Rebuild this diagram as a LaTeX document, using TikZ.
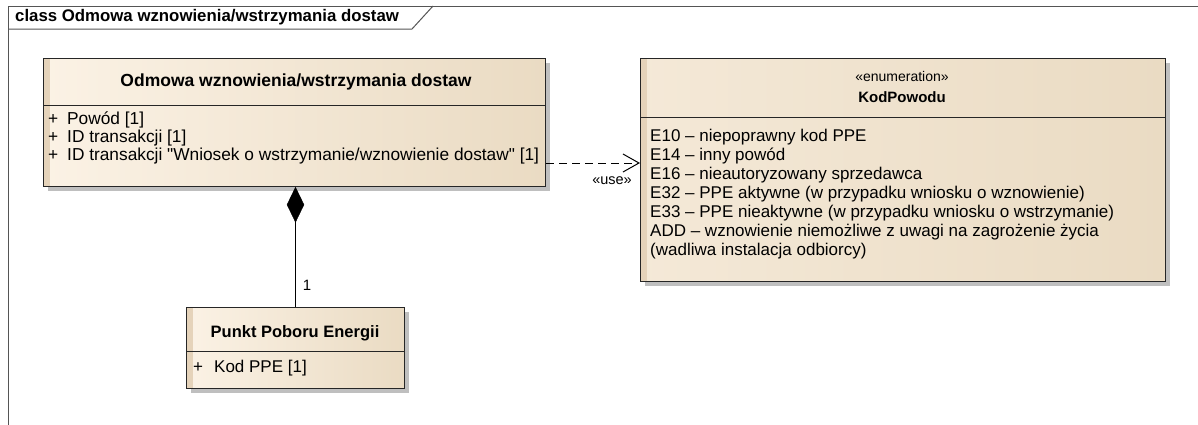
\documentclass[tikz,border=0pt]{standalone}
\usepackage{fontspec}
\setmainfont{Liberation Sans}[Ligatures=TeXOff]
\usetikzlibrary{arrows.meta,shapes.geometric,shadows}
\definecolor{umlLight}{RGB}{251,242,229}
\definecolor{umlDark}{RGB}{234,219,195}
\definecolor{umlStrip}{RGB}{229,211,186}
\definecolor{frameGray}{RGB}{85,85,85}
\tikzset{
  classbox/.style={draw=black!85,line width=1pt,anchor=north west,inner sep=0pt,
    left color=umlLight,right color=umlDark,
    drop shadow={shadow xshift=4pt,shadow yshift=-4pt,fill=black!25,opacity=1},
    path picture={\fill[umlStrip] (path picture bounding box.north west) rectangle ([xshift=6pt]path picture bounding box.south west);}},
  attr/.style={anchor=west,inner sep=0pt,font=\fontsize{17.3}{19}\selectfont},
  enumval/.style={anchor=west,inner sep=0pt,font=\fontsize{17}{19}\selectfont},
  cname/.style={inner sep=0pt,font=\bfseries\fontsize{16.5}{18}\selectfont}
}
\begin{document}
\begin{tikzpicture}[x=1pt,y=-1pt]
\useasboundingbox (0,0) rectangle (1198,424);
\fill[white] (0,0) rectangle (1198,424);
% diagram frame and tab
\draw[frameGray,line width=1pt] (8,430) -- (8,6) -- (1205,6);
\draw[frameGray,line width=1pt] (8,29) -- (412,29) -- (433,6);
\node[anchor=west,inner sep=0pt,font=\bfseries\fontsize{16.8}{18}\selectfont] (frametitle) at (15,17) {class Odmowa wznowienia/wstrzymania dostaw};
% class Odmowa
\node[classbox,minimum width=502pt,minimum height=128pt] (odmowa) at (43,58) {};
\draw[black!85,line width=1pt] (odmowa.west |- 0,105) -- (odmowa.east |- 0,105);
\node[cname,font=\bfseries\fontsize{17.5}{18}\selectfont] (odmowaname) at (296,82) {Odmowa wznowienia/wstrzymania dostaw};
\foreach \y/\txt in {120/{Powód [1]},138/{ID transakcji [1]},156/{ID transakcji "Wniosek o wstrzymanie/wznowienie dostaw" [1]}} {
  \node[attr] at (48,\y) {+};
  \node[attr] at (67,\y) {\txt};
}
% enumeration KodPowodu
\node[classbox,minimum width=525pt,minimum height=223pt,left color=umlLight!60!umlDark] (kod) at (640,58) {};
\draw[black!85,line width=1pt] (kod.west |- 0,117) -- (kod.east |- 0,117);
\node[inner sep=0pt,font=\fontsize{14}{16}\selectfont] (stereo) at (902,76) {«enumeration»};
\node[cname,font=\bfseries\fontsize{15}{18}\selectfont] (kodname) at (902,97) {KodPowodu};
\foreach \y/\txt in {137/{E10 – niepoprawny kod PPE},156/{E14 – inny powód},175/{E16 – nieautoryzowany sprzedawca},194/{E32 – PPE aktywne (w przypadku wniosku o wznowienie)},213/{E33 – PPE nieaktywne (w przypadku wniosku o wstrzymanie)},232/{ADD – wznowienie niemożliwe z uwagi na zagrożenie życia},251/{(wadliwa instalacja odbiorcy)}} {
  \node[enumval] at (650,\y) {\txt};
}
% class Punkt Poboru Energii
\node[classbox,minimum width=218pt,minimum height=81pt] (ppe) at (186,307) {};
\draw[black!85,line width=1pt] (ppe.west |- 0,351) -- (ppe.east |- 0,351);
\node[cname] (ppename) at (295,333) {Punkt Poboru Energii};
\node[attr,font=\fontsize{17}{19}\selectfont] at (193,368) {+};
\node[attr,font=\fontsize{17}{19}\selectfont] at (214,368) {Kod PPE [1]};
% composition
\node[diamond,fill=black,draw=black,inner sep=0pt,minimum width=17pt,minimum height=35pt,anchor=north] (comp) at (odmowa.south -| ppe.north) {};
\draw[black,line width=1pt] (comp.south) -- (ppe.north);
\node[inner sep=0pt,font=\fontsize{15}{18}\selectfont] (mult) at (307,285) {1};
% dependency
\draw[black,line width=1pt,dashed,dash pattern=on 8pt off 5pt,-{Straight Barb[length=16pt,width=18pt,line width=1pt]}] (odmowa.east |- 0,163) -- (kod.west |- 0,163);
\node[inner sep=0pt,font=\fontsize{14.5}{16}\selectfont] (uselabel) at (612,181) {«use»};
\end{tikzpicture}
\end{document}
